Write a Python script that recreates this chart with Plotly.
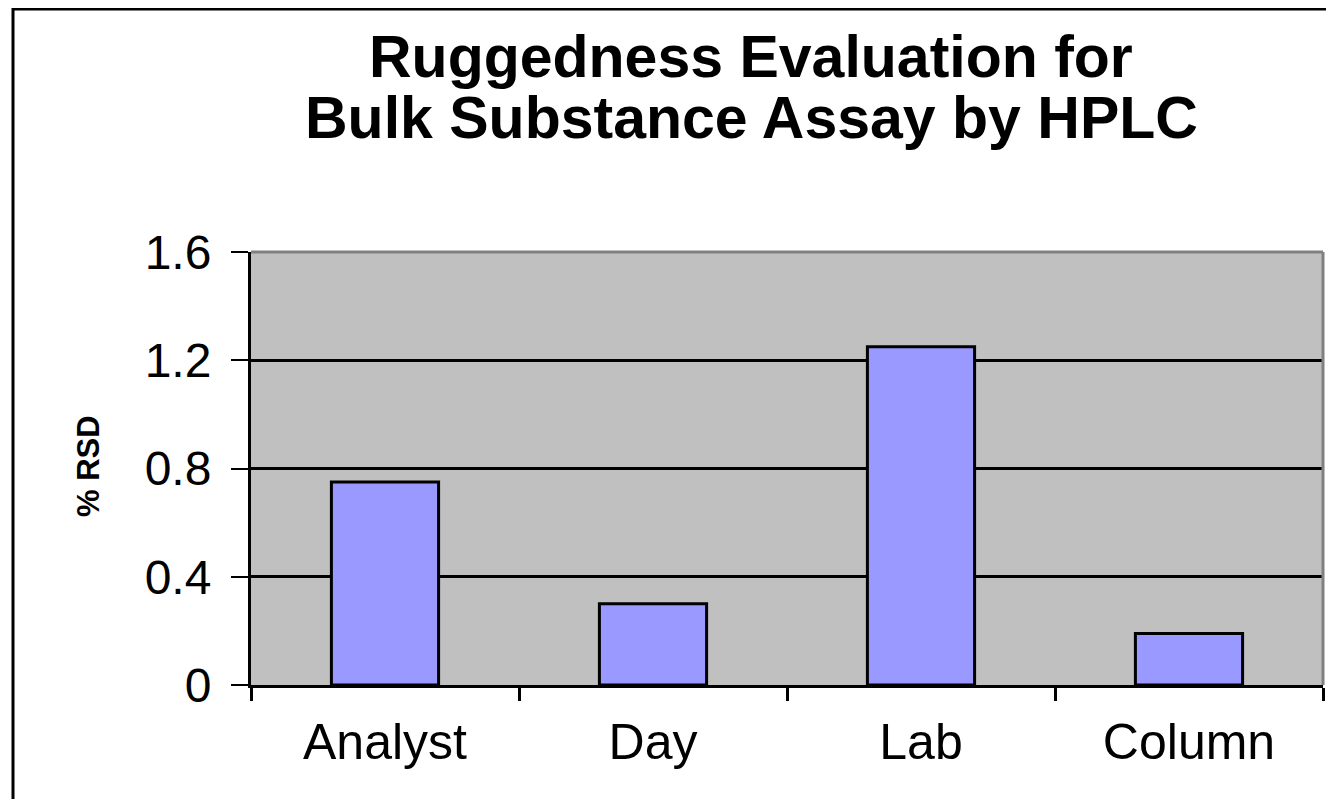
import plotly.graph_objects as go

categories = ["Analyst", "Day", "Lab", "Column"]
rsd_values = [0.75, 0.30, 1.25, 0.19]
y_ticks = [0, 0.4, 0.8, 1.2, 1.6]
y_tick_labels = ["0", "0.4", "0.8", "1.2", "1.6"]
title_lines = ["Ruggedness Evaluation for", "Bulk Substance Assay by HPLC"]
y_title = "% RSD"

OFF = 8  # browser default body margin
W, H = 1334 - OFF, 799 - OFF
L, R, T, B = 251 - OFF, 11, 252 - OFF, 114
pw = W - L - R
ph = H - T - B

FONT = "Arial, Liberation Sans, sans-serif"

fig = go.Figure()
fig.add_trace(go.Bar(
    x=categories, y=rsd_values,
    marker=dict(color="#9999FF", line=dict(color="black", width=3)),
    width=0.4,
))

def px_x(px):
    return (px - OFF - L) / pw

def px_y(py):
    return 1 - (py - OFF - T) / ph

annotations = [
    dict(text="<b>" + title_lines[0] + "</b>", x=px_x(751), y=px_y(57), xref="paper", yref="paper",
         showarrow=False, font=dict(family=FONT, size=59, color="black"),
         xanchor="center", yanchor="middle"),
    dict(text="<b>" + title_lines[1] + "</b>", x=px_x(751), y=px_y(118), xref="paper", yref="paper",
         showarrow=False, font=dict(family=FONT, size=59, color="black"),
         xanchor="center", yanchor="middle"),
    dict(text="<b>" + y_title + "</b>", x=px_x(88), y=px_y(466), xref="paper", yref="paper",
         showarrow=False, textangle=-90, font=dict(family=FONT, size=31, color="black"),
         xanchor="center", yanchor="middle"),
]

shapes = [
    dict(type="rect", xref="paper", yref="paper",
         x0=px_x(13), x1=px_x(1350), y0=px_y(815), y1=px_y(9),
         line=dict(color="black", width=3), fillcolor="rgba(0,0,0,0)", layer="below"),
    dict(type="line", xref="paper", yref="paper", x0=0, x1=1, y0=1, y1=1,
         line=dict(color="#808080", width=3)),
    dict(type="line", xref="paper", yref="paper", x0=1, x1=1, y0=0, y1=1,
         line=dict(color="#808080", width=3)),
]

fig.update_layout(
    width=W, height=H,
    margin=dict(l=L, r=R, t=T, b=B, autoexpand=False),
    paper_bgcolor="white",
    plot_bgcolor="#C0C0C0",
    showlegend=False,
    bargap=0.6,
    annotations=annotations,
    shapes=shapes,
    font=dict(family=FONT, color="black"),
)

fig.update_xaxes(
    type="category",
    showline=True, linecolor="black", linewidth=3,
    ticks="outside", tickson="boundaries", ticklen=13, tickwidth=3, tickcolor="black",
    tickfont=dict(family=FONT, size=50, color="black"),
    ticklabelstandoff=11,
    showgrid=False, zeroline=False,
)
fig.update_yaxes(
    range=[0, 1.6],
    tickvals=y_ticks, ticktext=y_tick_labels,
    showline=True, linecolor="black", linewidth=3,
    ticks="outside", ticklen=17, tickwidth=2, tickcolor="black",
    tickfont=dict(family=FONT, size=48, color="black"),
    ticklabelstandoff=10,
    showgrid=True, gridcolor="black", gridwidth=2.5,
    zeroline=False,
)

fig.write_html("out.html")
